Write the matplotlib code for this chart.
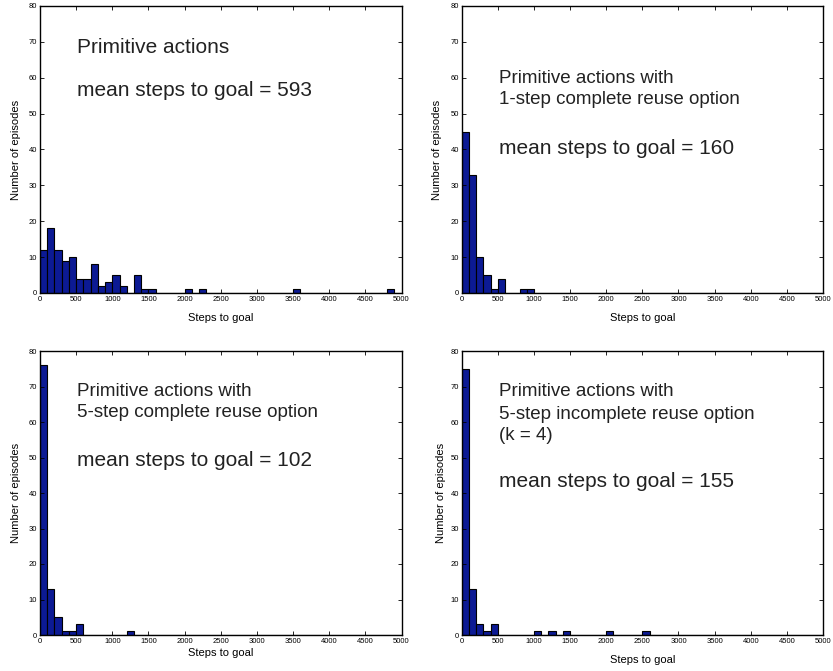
import numpy as np
import matplotlib.pyplot as plt

plt.rcParams['font.family'] = ['Liberation Sans', 'DejaVu Sans']

# histogram counts, bins of 100 steps starting at 0
bin_width = 100
edges = np.arange(0, 5000, bin_width)

counts_prim = {0: 12, 100: 18, 200: 12, 300: 9, 400: 10, 500: 4, 600: 4, 700: 8,
               800: 2, 900: 3, 1000: 5, 1100: 2, 1300: 5, 1400: 1, 1500: 1,
               2000: 1, 2200: 1, 3500: 1, 4800: 1}
counts_1step = {0: 45, 100: 33, 200: 10, 300: 5, 400: 1, 500: 4, 800: 1, 900: 1}
counts_5step = {0: 76, 100: 13, 200: 5, 300: 1, 400: 1, 500: 3, 1200: 1}
counts_5inc = {0: 75, 100: 13, 200: 3, 300: 1, 400: 3, 1000: 1, 1200: 1,
               1400: 1, 2000: 1, 2500: 1}

# (text, y in axes fraction, font size)
texts = [
    [("Primitive actions", 0.857, 15), ("mean steps to goal = 593", 0.707, 15)],
    [("Primitive actions with", 0.749, 13.5), ("1-step complete reuse option", 0.673, 13.5),
     ("mean steps to goal = 160", 0.505, 15)],
    [("Primitive actions with", 0.856, 13.5), ("5-step complete reuse option", 0.782, 13.5),
     ("mean steps to goal = 102", 0.613, 15)],
    [("Primitive actions with", 0.856, 13.5), ("5-step incomplete reuse option", 0.778, 13.5),
     ("(k = 4)", 0.701, 13.5), ("mean steps to goal = 155", 0.542, 15)],
]
all_counts = [counts_prim, counts_1step, counts_5step, counts_5inc]

fig = plt.figure(figsize=(8.33, 6.71), dpi=100)
W, H = 833, 671
boxes = [(40, 6, 401.5, 293), (461.7, 6, 823, 293),
         (40, 351, 401.5, 635), (461.7, 351, 823, 635)]
xpads = [7.5, 7.5, 2, 7.5]
ypads = [6, 6, 6, 3]

for i, ((x0, y0, x1, y1), counts, lines) in enumerate(zip(boxes, all_counts, texts)):
    ax = fig.add_axes([x0 / W, 1 - y1 / H, (x1 - x0) / W, (y1 - y0) / H])
    heights = [counts.get(int(e), 0) for e in edges]
    ax.bar(edges, heights, width=bin_width, align='edge', color='#0c1a94',
           edgecolor='black', linewidth=0.8)
    ax.set_xlim(0, 5000)
    ax.set_ylim(0, 80)
    ax.set_xticks(np.arange(0, 5001, 500))
    ax.set_yticks(np.arange(0, 81, 10))
    ax.tick_params(direction='in', top=True, right=True, labelsize=5.5,
                   length=3, width=0.6, pad=2)
    for s in ax.spines.values():
        s.set_linewidth(1.0)
    ax.set_xlabel("Steps to goal", fontsize=8, labelpad=xpads[i])
    ax.set_ylabel("Number of episodes", fontsize=8, labelpad=ypads[i])
    for txt, yy, fs in lines:
        ax.text(0.102, yy, txt, transform=ax.transAxes, fontsize=fs,
                va='center', ha='left', color='#222222')

fig.savefig("out.png", dpi=100)
